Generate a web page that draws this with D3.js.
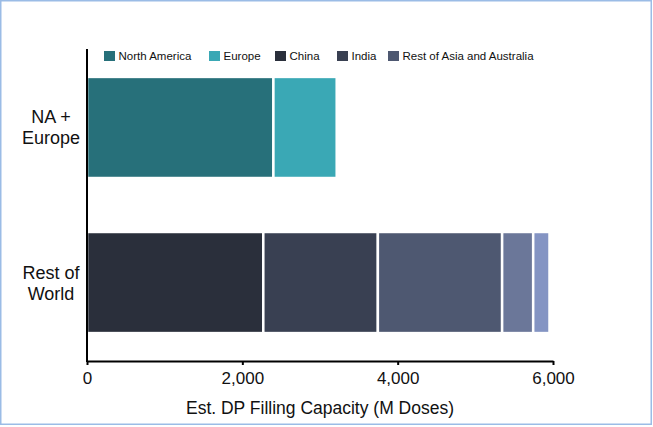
<!DOCTYPE html>
<html>
<head>
<meta charset="utf-8">
<script src="https://cdn.jsdelivr.net/npm/d3@7/dist/d3.min.js"></script>
<style>
html,body{margin:0;padding:0;background:#fff;}
svg{display:block;font-family:"Liberation Sans",Arial,sans-serif;}
</style>
</head>
<body>
<svg id="chart" width="653" height="427"></svg>
<script>
// ---- data ----
const categories = ["NA + Europe", "Rest of World"];
const categoryLines = [["NA +", "Europe"], ["Rest of", "World"]];
const seriesNames = ["North America", "Europe", "China", "India", "Rest of Asia and Australia", "Other 1", "Other 2"];
const legendNames = ["North America", "Europe", "China", "India", "Rest of Asia and Australia"];
const seriesColors = ["#27707a", "#3aa8b5", "#2a2f3b", "#394052", "#4e5871", "#6b7799", "#8494c3"];
// values per series, indexed by category
const northAmerica = [2400, 0];
const europe = [815, 0];
const china = [0, 2270];
const india = [0, 1475];
const restOfAsia = [0, 1600];
const other1 = [0, 400];
const other2 = [0, 210];
const xTicks = [0, 2000, 4000, 6000];
const xTitle = "Est. DP Filling Capacity (M Doses)";

const seriesValues = [northAmerica, europe, china, india, restOfAsia, other1, other2];
const rows = categories.map((c, i) => {
  const r = {category: c};
  seriesNames.forEach((s, j) => r[s] = seriesValues[j][i]);
  return r;
});

const svg = d3.select("#chart");

// border frame
svg.append("rect").attr("x", 0.75).attr("y", 0.75).attr("width", 650.5).attr("height", 423.5)
  .attr("fill", "none").attr("stroke", "#9bbce6").attr("stroke-width", 1.5);

const x = d3.scaleLinear().domain([0, 6000]).range([87, 553]);
const y = d3.scaleBand().domain(categories).range([49, 361]).paddingInner(0.348).paddingOuter(0.18);

const stack = d3.stack().keys(seriesNames);
const stacked = stack(rows);

const color = d3.scaleOrdinal().domain(seriesNames).range(seriesColors);

svg.append("g").selectAll("g").data(stacked).join("g")
  .attr("fill", d => color(d.key))
  .selectAll("rect").data(d => d.filter(p => p[1] - p[0] > 0)).join("rect")
  .attr("x", d => x(d[0]))
  .attr("y", d => y(d.data.category))
  .attr("width", d => x(d[1]) - x(d[0]))
  .attr("height", y.bandwidth())
  .attr("stroke", "#fff").attr("stroke-width", 2.5);

// x axis
const xAxis = d3.axisBottom(x).tickValues(xTicks).tickFormat(d3.format(",")).tickSize(4).tickSizeOuter(0);
const gx = svg.append("g").attr("transform", "translate(0,361)").call(xAxis);
gx.select(".domain").attr("stroke", "#000").attr("stroke-width", 2);
gx.selectAll(".tick line").attr("stroke", "#000").attr("stroke-width", 2);
gx.selectAll(".tick text").attr("font-size", 17).attr("fill", "#111").attr("dy", "0.95em")
  .attr("font-family", "Liberation Sans, Arial, sans-serif");

// y axis line
svg.append("line").attr("x1", 87).attr("x2", 87).attr("y1", 49).attr("y2", 362)
  .attr("stroke", "#000").attr("stroke-width", 2);

// y labels
categories.forEach((c, i) => {
  const cy = y(c) + y.bandwidth() / 2;
  const t = svg.append("text").attr("text-anchor", "middle").attr("font-size", 18).attr("fill", "#111");
  categoryLines[i].forEach((line, k) => {
    t.append("tspan").attr("x", 51).attr("y", cy - 4 + k * 21).text(line);
  });
});

// x title
svg.append("text").attr("x", 320).attr("y", 414).attr("text-anchor", "middle")
  .attr("font-size", 17.5).attr("fill", "#111").text(xTitle);

// legend
const legendX = [104, 209, 275, 337, 388];
const lg = svg.append("g");
legendNames.forEach((n, i) => {
  lg.append("rect").attr("x", legendX[i]).attr("y", 51).attr("width", 11).attr("height", 10).attr("fill", color(n));
  lg.append("text").attr("x", legendX[i] + 14.5).attr("y", 60).attr("font-size", 11.5).attr("fill", "#111").text(n);
});
</script>
</body>
</html>
